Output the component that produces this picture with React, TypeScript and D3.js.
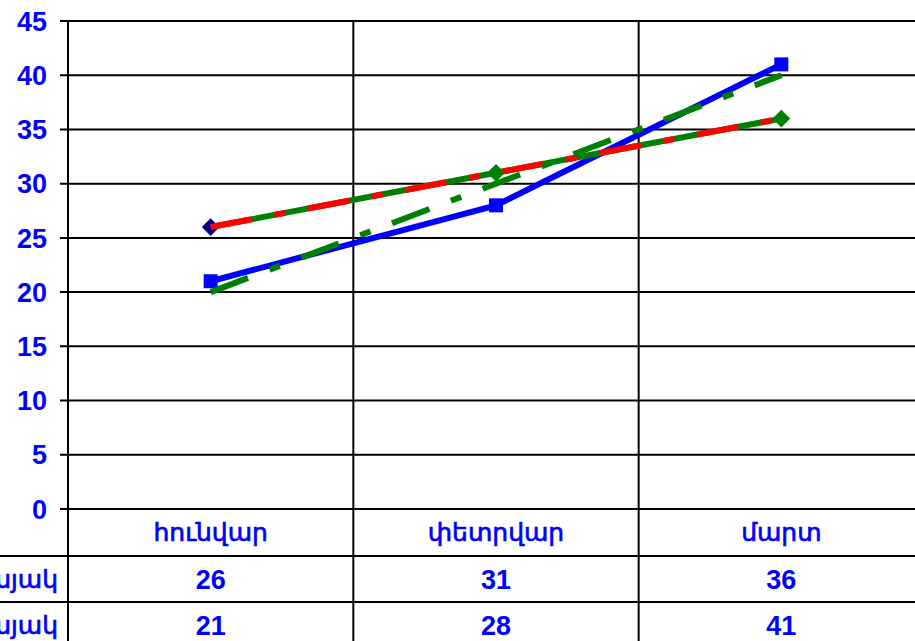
import React from "react";
import * as d3 from "d3";

// chart data
const months = ["հունվար", "փետրվար", "մարտ"];
const seriesNames = ["I եռամսյակ", "II եռամսյակ"];
const seriesA = [26, 31, 36];
const seriesB = [21, 28, 41];
const yTicks = [0, 5, 10, 15, 20, 25, 30, 35, 40, 45];

const W = 915;
const H = 641;
const BLUE = "#0000ff";
const FONT = "'Liberation Sans', Arial, 'DejaVu Sans', sans-serif";

// least squares line through the points, evaluated at each category
function trend(vals: number[]) {
  const xs = vals.map((_, i) => i);
  const mx = d3.mean(xs) as number;
  const my = d3.mean(vals) as number;
  const b =
    d3.sum(xs, (x, i) => (x - mx) * (vals[i] - my)) /
    d3.sum(xs, (x) => (x - mx) * (x - mx));
  return xs.map((x) => my + b * (x - mx));
}

export default function App() {
  const x = d3.scaleBand<string>().domain(months).range([68, 924]).padding(0);
  const y = d3.scaleLinear().domain([0, 45]).range([509, 21]);
  const cx = (m: string) => (x(m) as number) + x.bandwidth() / 2;

  const line = d3
    .line<number>()
    .x((_, i) => cx(months[i]))
    .y((d) => y(d));

  const trendA = trend(seriesA);
  const trendB = trend(seriesB);

  const rowY = [556, 602];
  const rows = [seriesA, seriesB];

  return (
    <svg
      width={W}
      height={H}
      style={{ position: "absolute", left: 0, top: 0, background: "#fff" }}
    >
      {/* horizontal grid */}
      {yTicks.map((t) => (
        <line key={t} x1={60} x2={W} y1={y(t)} y2={y(t)} stroke="#000" strokeWidth={2} />
      ))}
      {/* y labels */}
      {yTicks.map((t) => (
        <text
          key={"l" + t}
          x={47}
          y={y(t)}
          dy="0.36em"
          textAnchor="end"
          fontFamily={FONT}
          fontWeight="bold"
          fontSize={27}
          fill={BLUE}
        >
          {t}
        </text>
      ))}
      {/* vertical lines */}
      {months.map((m) => (
        <line
          key={"v" + m}
          x1={x(m) as number}
          x2={x(m) as number}
          y1={21}
          y2={H}
          stroke="#000"
          strokeWidth={2}
        />
      ))}
      {/* table rows */}
      {rowY.map((ry) => (
        <line key={"r" + ry} x1={0} x2={W} y1={ry} y2={ry} stroke="#000" strokeWidth={2} />
      ))}
      {months.map((m) => (
        <text
          key={"c" + m}
          x={cx(m)}
          y={532}
          dy="0.36em"
          textAnchor="middle"
          fontFamily={FONT}
          fontSize={25}
          fill={BLUE}
          stroke={BLUE}
          strokeWidth={0.7}
        >
          {m}
        </text>
      ))}
      {rows.map((vals, r) => (
        <g key={"row" + r}>
          <text
            x={58}
            y={rowY[r] + 23}
            dy="0.36em"
            textAnchor="end"
            fontFamily={FONT}
            fontSize={25}
            fill={BLUE}
            stroke={BLUE}
            strokeWidth={0.7}
          >
            {seriesNames[r]}
          </text>
          {vals.map((v, i) => (
            <text
              key={i}
              x={cx(months[i])}
              y={rowY[r] + 23}
              dy="0.36em"
              textAnchor="middle"
              fontFamily={FONT}
              fontWeight="bold"
              fontSize={27}
              fill={BLUE}
            >
              {v}
            </text>
          ))}
        </g>
      ))}

      {/* series B: blue solid with squares */}
      <path d={line(seriesB) as string} fill="none" stroke={BLUE} strokeWidth={6} />
      {seriesB.map((v, i) => (
        <rect
          key={"sb" + i}
          x={cx(months[i]) - 7}
          y={y(v) - 7}
          width={14}
          height={14}
          fill={BLUE}
        />
      ))}
      {/* series A: green line with diamonds */}
      <path d={line(seriesA) as string} fill="none" stroke="#008000" strokeWidth={6} />
      {seriesA.map((v, i) => (
        <path
          key={"sa" + i}
          d={d3.symbol(d3.symbolDiamond2, 200)() as string}
          transform={`translate(${cx(months[i])},${y(v)})`}
          fill={i === 0 ? "#000080" : "#008000"}
        />
      ))}
      {/* trend lines */}
      <path
        d={line(trendA) as string}
        fill="none"
        stroke="#ff0000"
        strokeWidth={6}
        strokeDasharray="42,23,11,23"
      />
      <path
        d={line(trendB) as string}
        fill="none"
        stroke="#008000"
        strokeWidth={6}
        strokeDasharray="40,23,11,23"
      />
    </svg>
  );
}
